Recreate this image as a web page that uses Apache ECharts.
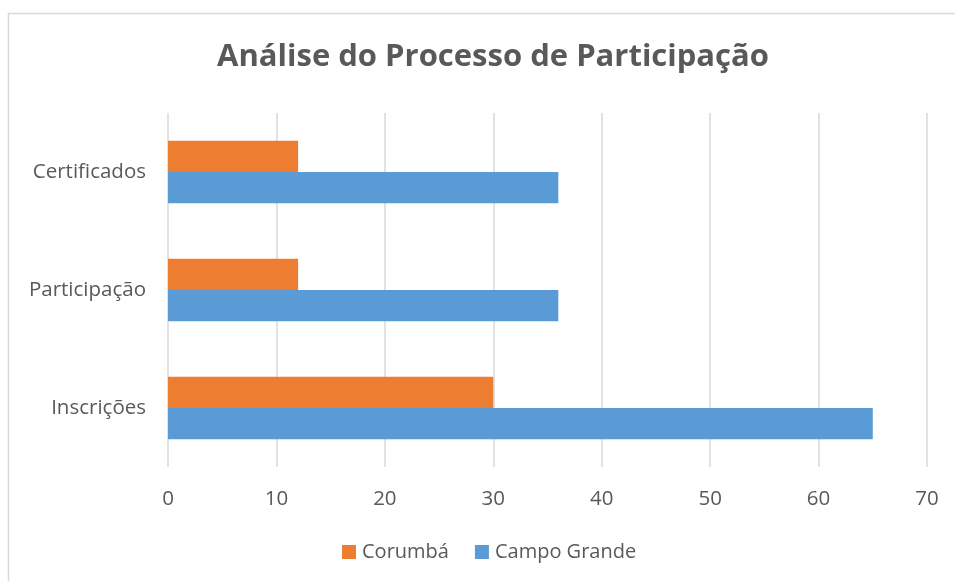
<!DOCTYPE html>
<html>
<head>
<meta charset="utf-8">
<script src="https://cdn.jsdelivr.net/npm/echarts@6/dist/echarts.min.js"></script>
<style>
  html, body { margin: 0; padding: 0; background: #fff; }
  #chart { width: 955px; height: 581px; }
</style>
</head>
<body>
<div id="chart"></div>
<script>
// etapas do processo (de baixo para cima)
const categorias = ['Inscrições', 'Participação', 'Certificados'];
const corumba = [30, 12, 12];
const campoGrande = [65, 36, 36];
const ticksX = [0, 10, 20, 30, 40, 50, 60, 70];

const fonte = '"Open Sans", sans-serif';
const chart = echarts.init(document.getElementById('chart'));

const option = {
  animation: false,
  graphic: [{
    type: 'rect',
    shape: { x: 8.5, y: 13.5, width: 960, height: 580 },
    style: { fill: 'none', stroke: '#d9d9d9', lineWidth: 1.5 }
  }],
  title: {
    text: 'Análise do Processo de Participação',
    left: 488, top: 37, textAlign: 'center',
    textStyle: { fontFamily: fonte, fontSize: 31, fontWeight: 'bold', color: '#595959' }
  },
  legend: {
    data: ['Corumbá', 'Campo Grande'],
    left: 337, top: 537,
    itemWidth: 14, itemHeight: 14, itemGap: 26,
    icon: 'rect',
    textStyle: { fontFamily: fonte, fontSize: 20, color: '#595959', padding: [0, 0, 0, 1] }
  },
  grid: { left: 168, right: 28, top: 113, bottom: 114, containLabel: false },
  xAxis: {
    type: 'value', min: ticksX[0], max: ticksX[ticksX.length - 1], interval: 10,
    axisLine: { show: false }, axisTick: { show: false },
    splitLine: { lineStyle: { color: '#d9d9d9', width: 1.5 } },
    axisLabel: { margin: 22, fontFamily: fonte, fontSize: 20.5, color: '#595959' }
  },
  yAxis: {
    type: 'category', data: categorias,
    axisLine: { show: false }, axisTick: { show: false },
    axisLabel: { margin: 22, fontFamily: fonte, fontSize: 20.5, color: '#595959' }
  },
  series: [
    {
      name: 'Corumbá', type: 'bar', data: corumba,
      itemStyle: { color: '#ed7d31' },
      barGap: '0%', barCategoryGap: '47%'
    },
    {
      name: 'Campo Grande', type: 'bar', data: campoGrande,
      itemStyle: { color: '#5b9bd5' },
      barGap: '0%', barCategoryGap: '47%'
    }
  ]
};
chart.setOption(option);
</script>
</body>
</html>
